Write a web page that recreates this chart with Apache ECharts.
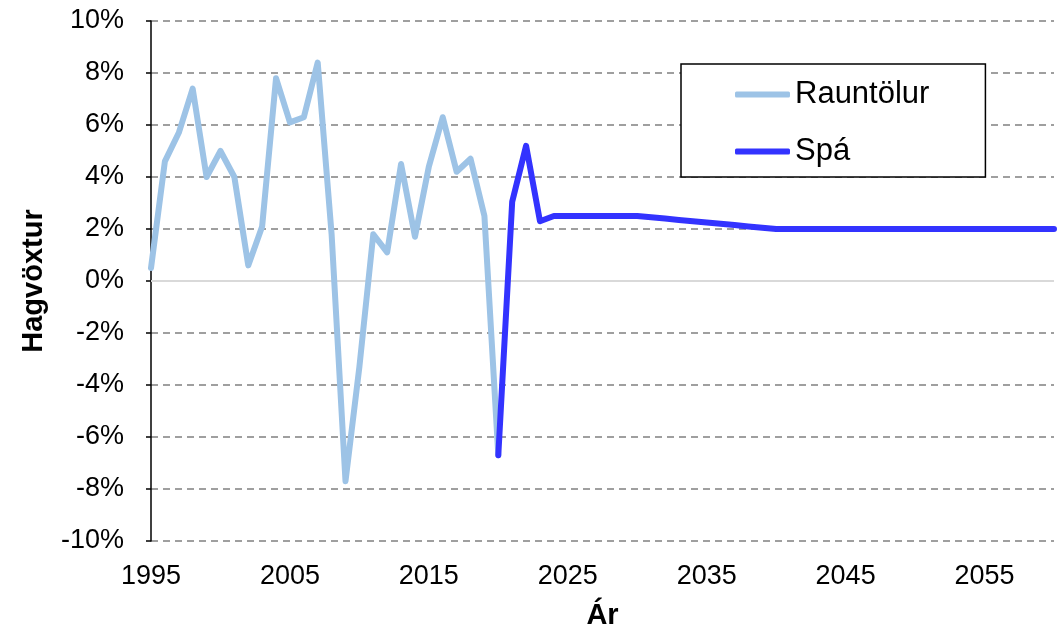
<!DOCTYPE html>
<html>
<head>
<meta charset="utf-8">
<script src="https://cdn.jsdelivr.net/npm/echarts@6/dist/echarts.min.js"></script>
<style>
html,body{margin:0;padding:0;background:#fff;}
#chart{width:1063px;height:635px;}
</style>
</head>
<body>
<div id="chart"></div>
<script>
const years = [];
for (let y = 1995; y <= 2060; y++) years.push(String(y));

const actualYears = ['1995','1996','1997','1998','1999','2000','2001','2002','2003','2004','2005','2006','2007','2008','2009','2010','2011','2012','2013','2014','2015','2016','2017','2018','2019','2020'];
const actualValues = [0.5, 4.6, 5.7, 7.4, 4.0, 5.0, 4.0, 0.6, 2.1, 7.8, 6.1, 6.3, 8.4, 1.8, -7.7, -3.3, 1.8, 1.1, 4.5, 1.7, 4.4, 6.3, 4.2, 4.7, 2.5, -6.7];

const forecastStart = '2020';
const forecastValues = [-6.7, 3.05, 5.2, 2.3, 2.5, 2.5, 2.5, 2.5, 2.5, 2.5, 2.5,
  2.45, 2.4, 2.35, 2.3, 2.25, 2.2, 2.15, 2.1, 2.05,
  2.0, 2.0, 2.0, 2.0, 2.0, 2.0, 2.0, 2.0, 2.0, 2.0, 2.0,
  2.0, 2.0, 2.0, 2.0, 2.0, 2.0, 2.0, 2.0, 2.0, 2.0];

const seriesNames = ['Rauntölur', 'Spá'];
const yTicks = { min: -10, max: 10, step: 2 };

const actualData = years.map(y => {
  const i = actualYears.indexOf(y);
  return i >= 0 ? actualValues[i] : null;
});
const fsIdx = years.indexOf(forecastStart);
const forecastData = years.map((y, i) => (i >= fsIdx && i - fsIdx < forecastValues.length) ? forecastValues[i - fsIdx] : null);

const FONT = '"Liberation Sans", Arial, sans-serif';
const chart = echarts.init(document.getElementById('chart'), null, { renderer: 'canvas' });
chart.setOption({
  animation: false,
  backgroundColor: '#ffffff',
  grid: { left: 151, right: 9, top: 21, bottom: 92, containLabel: false },
  legend: {
    orient: 'vertical',
    left: 681, top: 64,
    padding: [15, 56, 10, 54],
    itemGap: 26,
    itemWidth: 55, itemHeight: 6,
    icon: 'roundRect',
    borderColor: '#000', borderWidth: 1.5,
    backgroundColor: '#fff',
    data: seriesNames,
    textStyle: { fontFamily: FONT, fontSize: 31, color: '#000', lineHeight: 30 }
  },
  xAxis: {
    type: 'category',
    data: years,
    boundaryGap: false,
    name: 'Ár',
    nameLocation: 'middle',
    nameGap: 60,
    nameTextStyle: { fontFamily: FONT, fontSize: 29, fontWeight: 'bold', color: '#000' },
    axisLine: { show: false },
    axisTick: { show: false },
    axisLabel: {
      interval: (i) => i % 10 === 0,
      fontFamily: FONT, fontSize: 27, color: '#000', margin: 22
    },
    splitLine: { show: false }
  },
  yAxis: {
    type: 'value',
    min: yTicks.min, max: yTicks.max, interval: yTicks.step,
    name: 'Hagvöxtur',
    nameLocation: 'middle',
    nameGap: 103,
    nameTextStyle: { fontFamily: FONT, fontSize: 29, fontWeight: 'bold', color: '#000' },
    axisLine: { show: true, lineStyle: { color: '#000', width: 1.5 } },
    axisTick: { show: true, inside: false, length: 5, lineStyle: { color: '#000', width: 1.5 } },
    axisLabel: { formatter: '{value}%', fontFamily: FONT, fontSize: 27, color: '#000', margin: 27 },
    splitLine: { show: true, lineStyle: { color: '#808080', width: 1.5, type: [7, 5] } }
  },
  series: [
    {
      name: seriesNames[0],
      type: 'line',
      data: actualData,
      symbol: 'none',
      connectNulls: false,
      lineStyle: { color: '#9DC3E6', width: 6, join: 'round', cap: 'round' },
      itemStyle: { color: '#9DC3E6' },
      markLine: {
        silent: true, symbol: 'none', label: { show: false },
        lineStyle: { color: '#d9d9d9', width: 2, type: 'solid' },
        data: [{ yAxis: 0 }],
        z: 1
      },
      z: 3
    },
    {
      name: seriesNames[1],
      type: 'line',
      data: forecastData,
      symbol: 'none',
      lineStyle: { color: '#3333FF', width: 6, join: 'round', cap: 'round' },
      itemStyle: { color: '#3333FF' },
      z: 4
    }
  ]
});
</script>
</body>
</html>
